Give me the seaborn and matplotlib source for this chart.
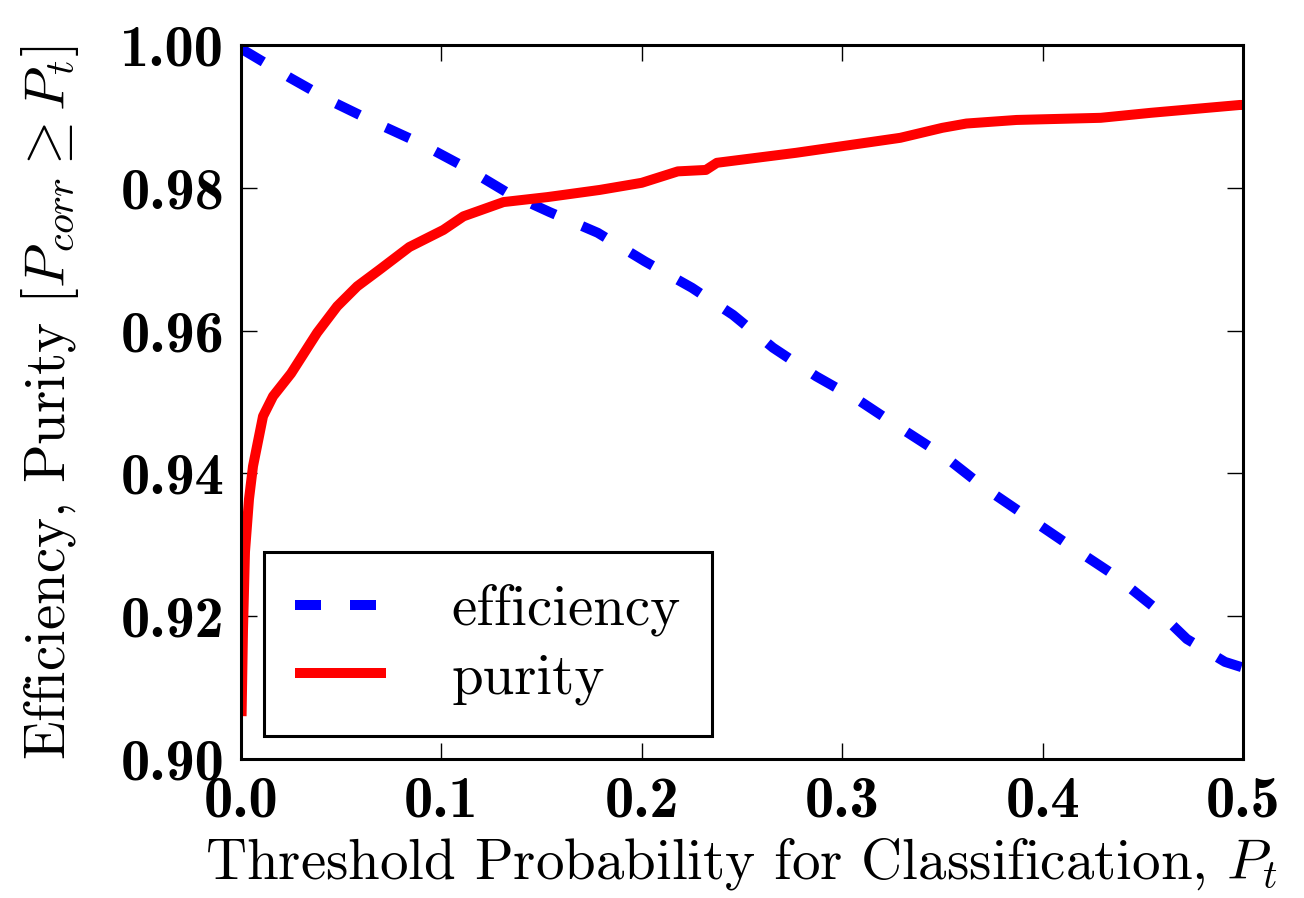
import numpy as np
import pandas as pd
import matplotlib
matplotlib.use("Agg")
import matplotlib.pyplot as plt
import seaborn as sns

# ---- data ----
eff_x = [0.0, 0.0245, 0.046, 0.068, 0.089, 0.111, 0.133, 0.154, 0.178, 0.2015,
         0.225, 0.2455, 0.2655, 0.287, 0.309, 0.330, 0.351, 0.371, 0.393, 0.414,
         0.435, 0.455, 0.472, 0.491, 0.500]
eff_y = [0.9995, 0.9954, 0.9920, 0.9890, 0.9863, 0.9830, 0.9793, 0.9766, 0.9737, 0.9697,
         0.9660, 0.9622, 0.9576, 0.9536, 0.9501, 0.9462, 0.9424, 0.9380, 0.9338, 0.9298,
         0.9259, 0.9214, 0.9168, 0.9136, 0.9128]

pur_x = [0.0003, 0.001, 0.002, 0.004, 0.006, 0.011, 0.016, 0.025, 0.038, 0.048,
         0.058, 0.069, 0.084, 0.101, 0.111, 0.131, 0.153, 0.179, 0.200, 0.218,
         0.232, 0.2375, 0.277, 0.329, 0.350, 0.362, 0.387, 0.429, 0.454, 0.4985, 0.500]
pur_y = [0.906, 0.918, 0.929, 0.9364, 0.941, 0.948, 0.9508, 0.954, 0.9597, 0.9634,
         0.9662, 0.9685, 0.9717, 0.9741, 0.9760, 0.9780, 0.9787, 0.9797, 0.9807, 0.9823,
         0.9825, 0.9835, 0.9849, 0.9870, 0.9884, 0.9890, 0.9895, 0.9898, 0.9905, 0.9916, 0.9916]

x_ticks = [0.0, 0.1, 0.2, 0.3, 0.4, 0.5]
y_ticks = [0.90, 0.92, 0.94, 0.96, 0.98, 1.00]
x_label = r"Threshold Probability for Classification, $P_t$"
y_label = r"Efficiency, Purity $[P_{corr} \geq P_t]$"

sns.set_theme(style="ticks")
plt.rcParams["font.family"] = ["cmr10", "DejaVu Serif"]
plt.rcParams["mathtext.fontset"] = "cm"
plt.rcParams["axes.unicode_minus"] = False
for k in ["text.color", "axes.labelcolor", "xtick.color", "ytick.color", "axes.edgecolor"]:
    plt.rcParams[k] = "black"

fig = plt.figure(figsize=(13.04, 8.98), dpi=100)
ax = fig.add_axes([0.1848, 0.1548, 0.9532 - 0.1848, 0.9499 - 0.1548])

lw = 7.2
dash = [2.6, 2.9]
sns.lineplot(x=eff_x, y=eff_y, ax=ax, color="#0000ff", lw=lw, estimator=None, sort=False,
             label="efficiency")
sns.lineplot(x=pur_x, y=pur_y, ax=ax, color="#ff0000", lw=lw, estimator=None, sort=False,
             label="purity")
ax.lines[0].set_dashes(dash)
ax.lines[0].set_dash_capstyle("butt")
ax.lines[1].set_solid_capstyle("butt")

ax.set_xlim(0, 0.5)
ax.set_ylim(0.90, 1.00)
ax.set_xticks(x_ticks)
ax.set_yticks(y_ticks)
ax.set_xticklabels([f"{v:.1f}" for v in x_ticks])
ax.set_yticklabels([f"{v:.2f}" for v in y_ticks])
ax.tick_params(direction="in", top=True, right=True, length=11.5, width=1.0,
               labelsize=42, labelfontfamily="cmb10", color="black", labelcolor="black")
ax.tick_params(axis="x", pad=12)
ax.tick_params(axis="y", pad=12)
for s in ax.spines.values():
    s.set_linewidth(2.2)
    s.set_color("black")

ax.set_xlabel(x_label, fontsize=41, labelpad=5, color="black")
ax.set_ylabel(y_label, fontsize=41, labelpad=28, color="black")

leg = ax.legend(loc="lower left", fontsize=41, handlelength=1.6, handletextpad=1.15,
                borderaxespad=0.4, fancybox=False, edgecolor="black", framealpha=1,
                borderpad=0.55, labelspacing=0.3)
leg.get_frame().set_linewidth(2.2)
for t in leg.get_texts():
    t.set_color("black")
leg.legend_handles[0].set_dashes(dash)
leg.legend_handles[0].set_dash_capstyle("butt")

fig.savefig("out.png", dpi=100, facecolor="white")
